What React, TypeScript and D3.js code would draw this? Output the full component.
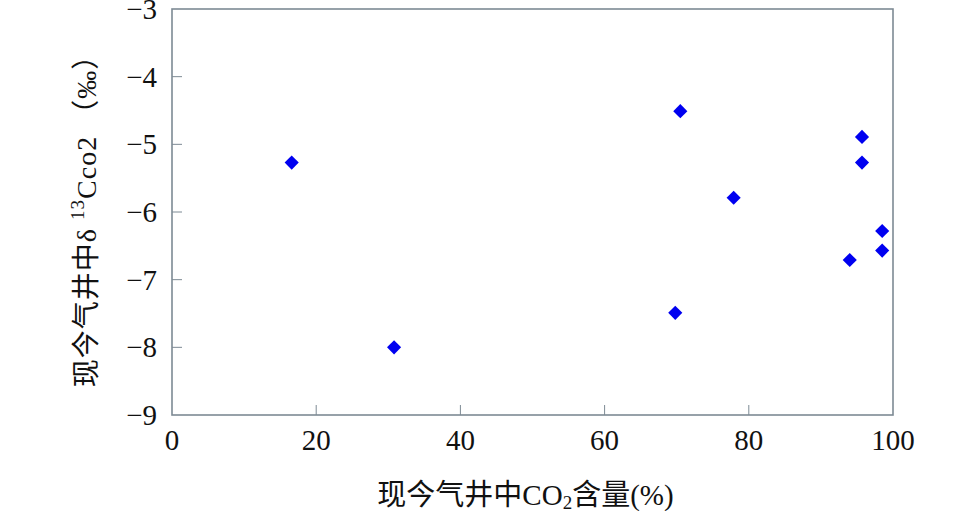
import React from 'react';
import * as d3 from 'd3';

// CO2 content in gas wells (%) vs δ13C of CO2 (‰)
const co2Content = [16.6, 30.8, 70.5, 69.8, 77.9, 94.0, 95.7, 95.7, 98.5, 98.5];
const deltaC13 = [-5.27, -8.0, -4.51, -7.49, -5.79, -6.71, -4.89, -5.27, -6.28, -6.57];
const xTicks = [0, 20, 40, 60, 80, 100];
const yTicks = [-3, -4, -5, -6, -7, -8, -9];

const width = 980;
const height = 511;
const marginLeft = 172;
const marginRight = 87;
const marginTop = 9;
const marginBottom = 96;

const font = '"Liberation Serif", "Times New Roman", "Noto Sans CJK SC", serif';
const axisColor = '#7d8a94';

export default function App() {
  const x = d3.scaleLinear().domain([0, 100]).range([marginLeft, width - marginRight]);
  const y = d3.scaleLinear().domain([-9, -3]).range([height - marginBottom, marginTop]);
  const diamond = d3.symbol(d3.symbolSquare, 100)();
  const points = co2Content.map((v, i) => ({ x: v, y: deltaC13[i] }));

  const [x0, x1] = x.range();
  const [y0, y1] = y.range();

  return (
    <svg width={width} height={height} style={{ display: 'block', position: 'absolute', left: 0, top: 0 }}
      fontFamily={font}>
      <rect x={0} y={0} width={width} height={height} fill="#fff" />
      {/* ticks inside */}
      {xTicks.slice(1, -1).map(t => (
        <line key={'xt' + t} x1={x(t)} x2={x(t)} y1={y0} y2={y0 - 10} stroke={axisColor} strokeWidth={1} />
      ))}
      {yTicks.slice(1, -1).map(t => (
        <line key={'yt' + t} x1={x0} x2={x0 + 10} y1={y(t)} y2={y(t)} stroke={axisColor} strokeWidth={1} />
      ))}
      <rect x={x0} y={y1} width={x1 - x0} height={y0 - y1} fill="none" stroke={axisColor} strokeWidth={1.6} />

      {xTicks.map(t => (
        <text key={'xl' + t} x={x(t)} y={y0 + 25} textAnchor="middle" dominantBaseline="central"
          fontSize={29} fill="#111">{t}</text>
      ))}
      {yTicks.map(t => (
        <text key={'yl' + t} x={x0 - 15} y={y(t)} textAnchor="end" dominantBaseline="central"
          fontSize={29} fill="#111">{'\u2212' + Math.abs(t)}</text>
      ))}

      {points.map((p, i) => (
        <path key={i} d={diamond} transform={`translate(${x(p.x)},${y(p.y)}) rotate(45)`} fill="#0000f0" />
      ))}

      <text x={(x0 + x1) / 2 - 7} y={495} textAnchor="middle" dominantBaseline="central" fontSize={29} fill="#111">
        现今气井中CO<tspan fontSize={19} dy={7}>2</tspan><tspan dy={-7}>含量(%)</tspan>
      </text>

      <text transform={`translate(86,${214}) rotate(-90)`} textAnchor="middle" dominantBaseline="central"
        fontSize={28} fill="#111" letterSpacing={1}>
        现今气井中δ <tspan fontSize={19} dy={-9}>13</tspan><tspan dy={9}>Cco2 （‰）</tspan>
      </text>
    </svg>
  );
}
